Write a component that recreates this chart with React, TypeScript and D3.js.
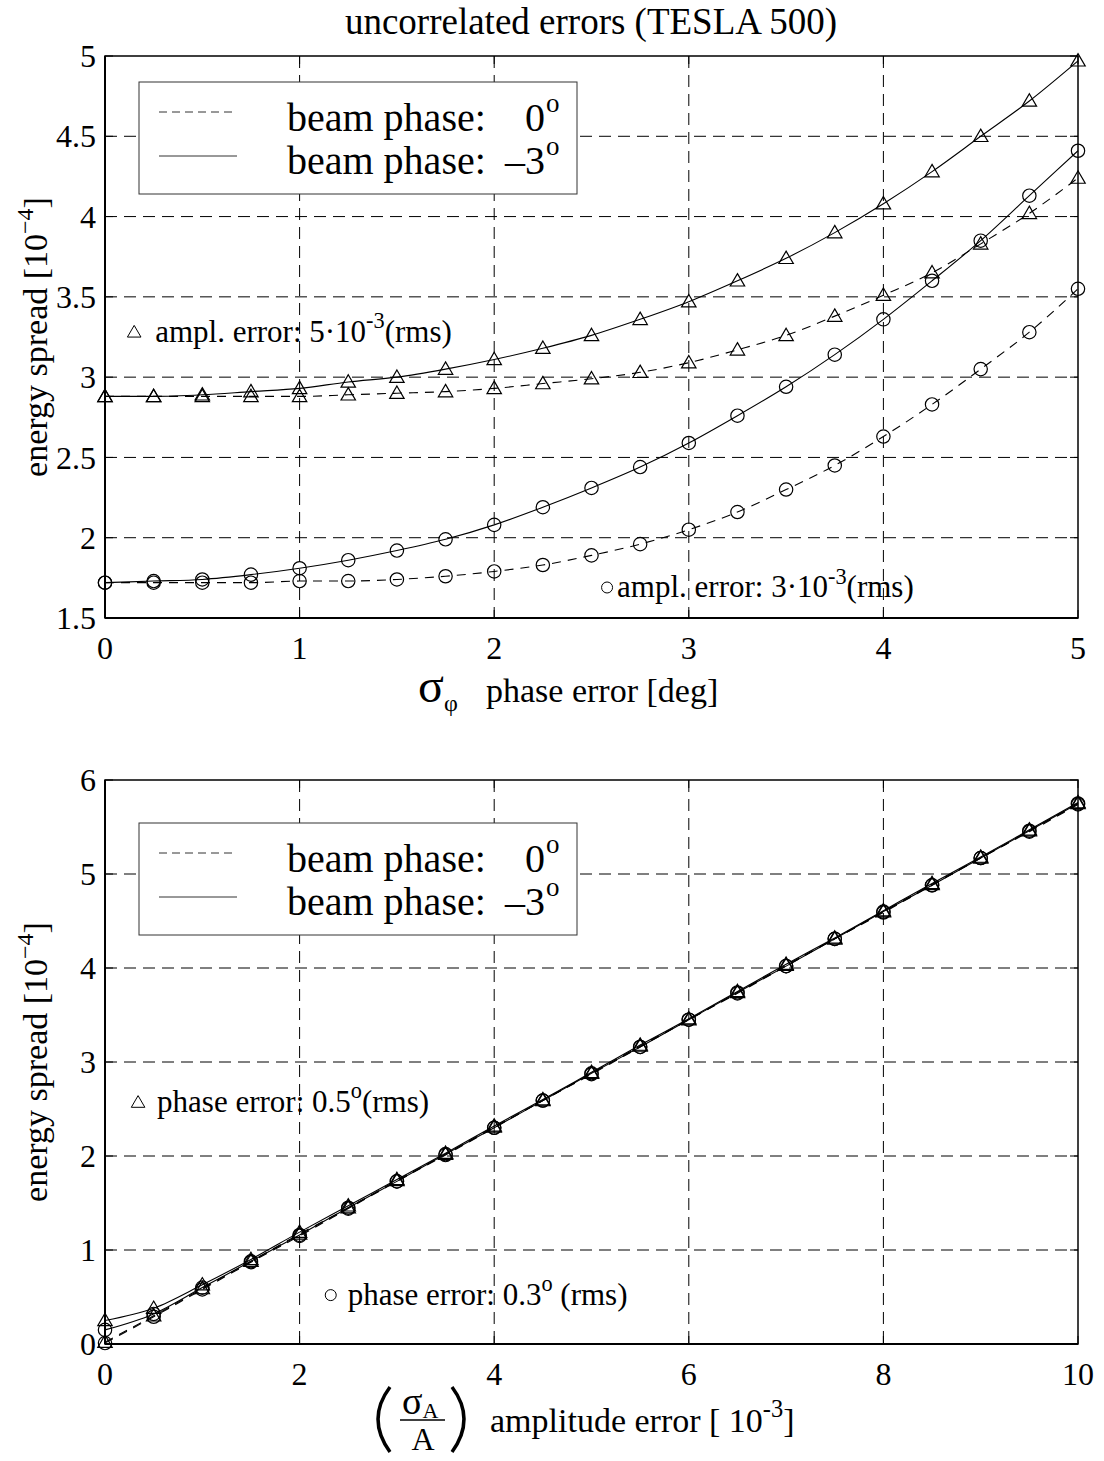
import { useEffect, useRef } from "react";
import * as d3 from "d3";

// ---- top panel: energy spread vs. phase error ----
const phaseErr = [0, 0.25, 0.5, 0.75, 1, 1.25, 1.5, 1.75, 2, 2.25, 2.5, 2.75, 3, 3.25, 3.5, 3.75, 4, 4.25, 4.5, 4.75, 5];
// ampl. error 5e-3
const triSolidTop = [2.88, 2.88, 2.89, 2.91, 2.93, 2.97, 3.0, 3.05, 3.11, 3.18, 3.26, 3.36, 3.47, 3.6, 3.74, 3.9, 4.08, 4.28, 4.5, 4.72, 4.97];
const triDashTop = [2.88, 2.88, 2.88, 2.88, 2.88, 2.89, 2.9, 2.91, 2.93, 2.96, 2.99, 3.03, 3.09, 3.17, 3.26, 3.38, 3.51, 3.65, 3.83, 4.02, 4.24];
// ampl. error 3e-3
const circSolidTop = [1.72, 1.73, 1.74, 1.77, 1.81, 1.86, 1.92, 1.99, 2.08, 2.19, 2.31, 2.44, 2.59, 2.76, 2.94, 3.14, 3.36, 3.6, 3.85, 4.13, 4.41];
const circDashTop = [1.72, 1.72, 1.72, 1.72, 1.73, 1.73, 1.74, 1.76, 1.79, 1.83, 1.89, 1.96, 2.05, 2.16, 2.3, 2.45, 2.63, 2.83, 3.05, 3.28, 3.55];
const phaseTicks = [0, 1, 2, 3, 4, 5];
const spreadTicksTop = [1.5, 2, 2.5, 3, 3.5, 4, 4.5, 5];

// ---- bottom panel: energy spread vs. amplitude error ----
const ampErr = [0, 0.5, 1, 1.5, 2, 2.5, 3, 3.5, 4, 4.5, 5, 5.5, 6, 6.5, 7, 7.5, 8, 8.5, 9, 9.5, 10];
// phase error 0.5 deg
const triSolidBot = [0.25, 0.38, 0.63, 0.9, 1.19, 1.47, 1.75, 2.03, 2.32, 2.6, 2.89, 3.18, 3.46, 3.75, 4.04, 4.32, 4.61, 4.9, 5.18, 5.47, 5.76];
const triDashBot = [0.02, 0.3, 0.59, 0.88, 1.17, 1.45, 1.74, 2.02, 2.31, 2.59, 2.88, 3.17, 3.45, 3.74, 4.03, 4.31, 4.6, 4.89, 5.17, 5.46, 5.75];
// phase error 0.3 deg
const circSolidBot = [0.15, 0.32, 0.6, 0.88, 1.16, 1.45, 1.73, 2.02, 2.3, 2.59, 2.88, 3.16, 3.45, 3.74, 4.02, 4.31, 4.6, 4.88, 5.17, 5.46, 5.75];
const circDashBot = [0.01, 0.29, 0.58, 0.87, 1.15, 1.44, 1.73, 2.01, 2.3, 2.59, 2.87, 3.16, 3.45, 3.73, 4.02, 4.31, 4.59, 4.88, 5.17, 5.45, 5.74];
const ampTicks = [0, 2, 4, 6, 8, 10];
const spreadTicksBot = [0, 1, 2, 3, 4, 5, 6];

const legendNames = ["beam phase:", "beam phase:"];
const legendPhases = ["0", "\u20133"];

const FONT = "'Liberation Serif', 'Times New Roman', serif";
const L = 105, R = 1078;

// matlab style '^' marker
const triangle = {
  draw(ctx: any, size: number) {
    const w = Math.sqrt(size);
    ctx.moveTo(0, -w);
    ctx.lineTo(w, w * 0.72);
    ctx.lineTo(-w, w * 0.72);
    ctx.closePath();
  },
};

function supText(sel: any, x: number, y: number, size: number, parts: [string, boolean][]) {
  const t = sel.append("text").attr("x", x).attr("y", y).attr("font-size", size).attr("font-family", FONT);
  let up = false;
  parts.forEach(([s, sup]) => {
    const ts = t.append("tspan").text(s);
    if (sup && !up) ts.attr("dy", -size * 0.45).attr("font-size", size * 0.72);
    if (!sup && up) ts.attr("dy", size * 0.45);
    up = sup;
  });
  return t;
}

function drawPanel(svg: any, cfg: any) {
  const x = d3.scaleLinear().domain(cfg.xDomain).range([L, R]);
  const y = d3.scaleLinear().domain(cfg.yDomain).range([cfg.bottom, cfg.top]);
  const g = svg.append("g");

  // grid
  g.selectAll(".vg").data(cfg.xTicks.slice(1, -1)).join("line")
    .attr("x1", (d: number) => x(d)).attr("x2", (d: number) => x(d))
    .attr("y1", cfg.top).attr("y2", cfg.bottom)
    .attr("stroke", "#000").attr("stroke-width", 1).attr("stroke-dasharray", "12,7");
  g.selectAll(".hg").data(cfg.yTicks.slice(1, -1)).join("line")
    .attr("x1", L).attr("x2", R)
    .attr("y1", (d: number) => y(d)).attr("y2", (d: number) => y(d))
    .attr("stroke", "#000").attr("stroke-width", 1).attr("stroke-dasharray", "12,7");

  // inward ticks on all four sides
  cfg.xTicks.forEach((d: number) => {
    g.append("line").attr("x1", x(d)).attr("x2", x(d)).attr("y1", cfg.bottom).attr("y2", cfg.bottom - 8).attr("stroke", "#000");
    g.append("line").attr("x1", x(d)).attr("x2", x(d)).attr("y1", cfg.top).attr("y2", cfg.top + 8).attr("stroke", "#000");
  });
  cfg.yTicks.forEach((d: number) => {
    g.append("line").attr("x1", L).attr("x2", L + 8).attr("y1", y(d)).attr("y2", y(d)).attr("stroke", "#000");
    g.append("line").attr("x1", R).attr("x2", R - 8).attr("y1", y(d)).attr("y2", y(d)).attr("stroke", "#000");
  });

  // box
  g.append("rect").attr("x", L).attr("y", cfg.top).attr("width", R - L).attr("height", cfg.bottom - cfg.top)
    .attr("fill", "none").attr("stroke", "#000").attr("stroke-width", 1.5);
  g.append("line").attr("x1", L).attr("x2", L).attr("y1", cfg.top).attr("y2", cfg.bottom).attr("stroke", "#000").attr("stroke-width", 2);
  g.append("line").attr("x1", L).attr("x2", R).attr("y1", cfg.bottom).attr("y2", cfg.bottom).attr("stroke", "#000").attr("stroke-width", 2);

  // tick labels
  g.selectAll(".xt").data(cfg.xTicks).join("text")
    .attr("x", (d: number) => x(d)).attr("y", cfg.bottom + 41)
    .attr("text-anchor", "middle").attr("font-size", 32).attr("font-family", FONT)
    .text((d: number) => String(d));
  g.selectAll(".yt").data(cfg.yTicks).join("text")
    .attr("x", L - 9).attr("y", (d: number) => y(d)).attr("dy", "0.35em")
    .attr("text-anchor", "end").attr("font-size", 32).attr("font-family", FONT)
    .text((d: number) => String(d));

  // series
  const line = d3.line<number>().x((_d, i) => x(cfg.xs[i])).y((d) => y(d)).curve(d3.curveMonotoneX);
  cfg.series.forEach((s: any) => {
    g.append("path").attr("d", line(s.values)).attr("fill", "none").attr("stroke", "#000")
      .attr("stroke-width", 1.1).attr("stroke-dasharray", s.dashed ? "9,7" : null);
    const sym = s.marker === "tri" ? d3.symbol(triangle as any, 52) : d3.symbol(d3.symbolCircle, 140);
    g.selectAll(null).data(s.values).join("path")
      .attr("transform", (d: number, i: number) => `translate(${x(cfg.xs[i])},${y(d)})`)
      .attr("d", sym()).attr("fill", "none").attr("stroke", "#000").attr("stroke-width", 1.2);
  });

  // legend
  const lg = cfg.legend;
  g.append("rect").attr("x", 139).attr("y", lg).attr("width", 438).attr("height", 112)
    .attr("fill", "#fff").attr("stroke", "#333").attr("stroke-width", 1);
  [0, 1].forEach((i) => {
    const ly = lg + 30 + i * 44;
    g.append("line").attr("x1", 159).attr("x2", 237).attr("y1", ly).attr("y2", ly)
      .attr("stroke", "#333").attr("stroke-width", 1).attr("stroke-dasharray", i === 0 ? "8,5" : null);
    g.append("text").attr("x", 287).attr("y", lg + 49 + i * 43).attr("font-size", 40).attr("font-family", FONT).text(legendNames[i]);
    g.append("text").attr("x", 545).attr("y", lg + 49 + i * 43).attr("font-size", 40).attr("font-family", FONT)
      .attr("text-anchor", "end").text(legendPhases[i]);
    g.append("text").attr("x", 546).attr("y", lg + 30 + i * 43).attr("font-size", 27).attr("font-family", FONT).text("o");
  });

  // annotations
  cfg.notes.forEach((n: any) => {
    const px = x(n.x), py = y(n.y);
    const sym = n.marker === "tri" ? d3.symbol(triangle as any, 46) : d3.symbol(d3.symbolCircle, 95);
    g.append("path").attr("transform", `translate(${px},${py})`).attr("d", sym()).attr("fill", "none").attr("stroke", "#000");
    supText(g, px + n.dx, py + 10, 31, n.parts);
  });

  // y label
  const yl = g.append("text").attr("transform", `translate(47,${(cfg.top + cfg.bottom) / 2}) rotate(-90)`)
    .attr("text-anchor", "middle").attr("font-size", 34).attr("font-family", FONT);
  yl.append("tspan").text("energy spread [10");
  yl.append("tspan").text("\u22124").attr("dy", -14).attr("font-size", 24);
  yl.append("tspan").text("]").attr("dy", 14);
  return { x, y, g };
}

export default function App() {
  const ref = useRef<SVGSVGElement>(null);

  useEffect(() => {
    const svg = d3.select(ref.current);
    svg.selectAll("*").remove();

    svg.append("text").attr("x", 591).attr("y", 34).attr("text-anchor", "middle")
      .attr("font-size", 37).attr("font-family", FONT).text("uncorrelated errors (TESLA 500)");

    const top = drawPanel(svg, {
      xDomain: [0, 5], yDomain: [1.5, 5], top: 56, bottom: 618,
      xTicks: phaseTicks, yTicks: spreadTicksTop, xs: phaseErr, legend: 82,
      series: [
        { values: triDashTop, marker: "tri", dashed: true },
        { values: triSolidTop, marker: "tri", dashed: false },
        { values: circDashTop, marker: "circ", dashed: true },
        { values: circSolidTop, marker: "circ", dashed: false },
      ],
      notes: [
        { x: 0.15, y: 3.28, marker: "tri", dx: 21, parts: [["ampl. error: 5\u00b710", false], ["-3", true], ["(rms)", false]] },
        { x: 2.58, y: 1.69, marker: "circ", dx: 10, parts: [["ampl. error: 3\u00b710", false], ["-3", true], ["(rms)", false]] },
      ],
    });
    // x label top: sigma_phi phase error [deg]
    const xl = top.g.append("text").attr("y", 702).attr("font-family", FONT);
    xl.append("tspan").attr("x", 418).attr("font-size", 48).text("\u03c3");
    xl.append("tspan").attr("font-size", 24).attr("dy", 9).text("\u03c6");
    xl.append("tspan").attr("x", 486).attr("dy", -9).attr("font-size", 34).text("phase error [deg]");

    const bot = drawPanel(svg, {
      xDomain: [0, 10], yDomain: [0, 6], top: 780, bottom: 1344,
      xTicks: ampTicks, yTicks: spreadTicksBot, xs: ampErr, legend: 823,
      series: [
        { values: triDashBot, marker: "tri", dashed: true },
        { values: triSolidBot, marker: "tri", dashed: false },
        { values: circDashBot, marker: "circ", dashed: true },
        { values: circSolidBot, marker: "circ", dashed: false },
      ],
      notes: [
        { x: 0.34, y: 2.57, marker: "tri", dx: 19, parts: [["phase error: 0.5", false], ["o", true], ["(rms)", false]] },
        { x: 2.32, y: 0.52, marker: "circ", dx: 17, parts: [["phase error: 0.3", false], ["o", true], [" (rms)", false]] },
      ],
    });
    // x label bottom: (sigma_A / A) amplitude error [10^-3]
    const b = bot.g;
    b.append("path").attr("d", "M390,1387 Q366,1419 390,1452").attr("fill", "none").attr("stroke", "#000").attr("stroke-width", 3.5);
    b.append("path").attr("d", "M452,1387 Q476,1419 452,1452").attr("fill", "none").attr("stroke", "#000").attr("stroke-width", 3.5);
    const fr = b.append("text").attr("y", 1414).attr("font-family", FONT);
    fr.append("tspan").attr("x", 402).attr("font-size", 38).text("\u03c3");
    fr.append("tspan").attr("font-size", 22).attr("dy", 4).text("A");
    b.append("line").attr("x1", 400).attr("x2", 445).attr("y1", 1420).attr("y2", 1420).attr("stroke", "#000").attr("stroke-width", 1.5);
    b.append("text").attr("x", 423).attr("y", 1450).attr("text-anchor", "middle").attr("font-size", 32).attr("font-family", FONT).text("A");
    supText(b, 490, 1432, 34, [["amplitude error [ 10", false], ["-3", true], ["]", false]]);
  }, []);

  return (
    <svg ref={ref} width={1104} height={1461}
      style={{ position: "absolute", left: 0, top: 0, background: "#fff" }} />
  );
}
